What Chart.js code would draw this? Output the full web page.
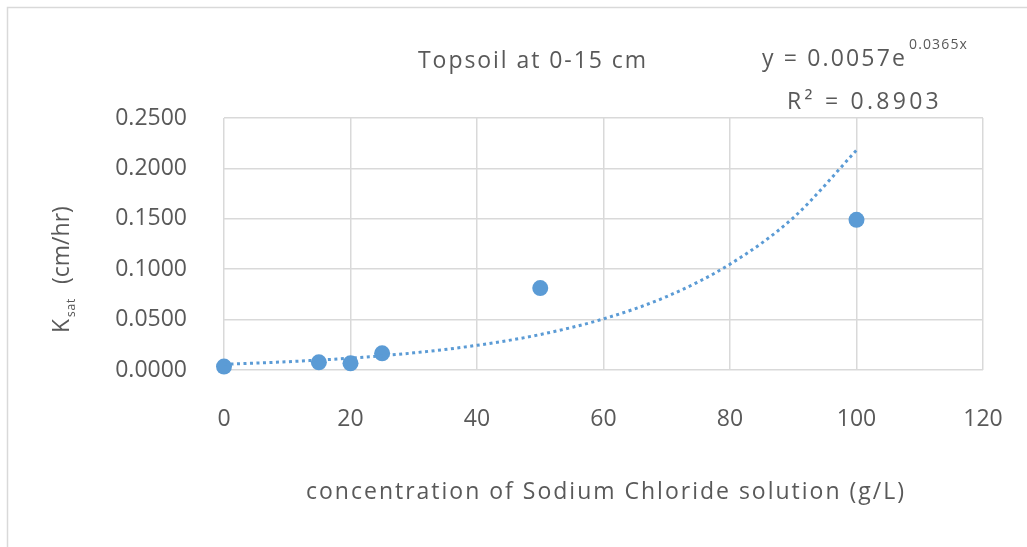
<!DOCTYPE html>
<html>
<head>
<meta charset="utf-8">
<script src="https://cdn.jsdelivr.net/npm/chart.js@4.4.1/dist/chart.umd.min.js"></script>
<style>
  html, body { margin: 0; padding: 0; background: #fff; }
  #wrap { width: 1027px; height: 547px; }
</style>
</head>
<body>
<div id="wrap"><canvas id="myChart" width="1027" height="547"></canvas></div>
<script>
// measured points (NaCl concentration g/L vs Ksat cm/hr)
const concentration = [0, 15, 20, 25, 50, 100];
const ksat = [0.0034, 0.0076, 0.0066, 0.0165, 0.0813, 0.1490];

// exponential trendline
const trendX = [0, 10, 20, 30, 40, 50, 60, 70, 80, 90, 100];
const trendY = [0.0057, 0.0082, 0.0118, 0.0170, 0.0245, 0.0352, 0.0507, 0.0729, 0.1050, 0.1510, 0.2180];

const xTicks = [0, 20, 40, 60, 80, 100, 120];
const yTicks = [0, 0.05, 0.10, 0.15, 0.20, 0.25];

const chartTitle = 'Topsoil at 0-15 cm';
const xTitle = 'concentration of Sodium Chloride solution (g/L)';
const equation = {base: 'y = 0.0057e', exp: '0.0365x', r2: 'R\u00B2 = 0.8903'};

const blue = '#5B9BD5';
const textColor = '#595959';
const gridColor = '#d9d9d9';
const fontFamily = '"Open Sans", "Noto Sans", sans-serif';

// draw text at (x, y) stretched with letter spacing to a given width
function fitText(ctx, text, x, y, size, width) {
    ctx.font = size + 'px ' + fontFamily;
    ctx.letterSpacing = '0px';
    const w = ctx.measureText(text).width;
    const sp = Math.max(0, (width - w) / text.length);
    ctx.letterSpacing = sp + 'px';
    ctx.fillText(text, x, y);
    return w + sp * text.length;
}

// draws frame, title, equation and axis titles
const decorPlugin = {
    id: 'decor',
    beforeDraw(chart) {
        const ctx = chart.ctx;
        ctx.save();
        ctx.fillStyle = '#fff';
        ctx.fillRect(0, 0, chart.width, chart.height);
        ctx.strokeStyle = gridColor;
        ctx.lineWidth = 1.5;
        ctx.beginPath();
        ctx.moveTo(7.5, chart.height);
        ctx.lineTo(7.5, 7.5);
        ctx.lineTo(chart.width, 7.5);
        ctx.stroke();
        ctx.restore();
    },
    afterDraw(chart) {
        const ctx = chart.ctx;
        ctx.save();
        ctx.fillStyle = textColor;
        ctx.textBaseline = 'alphabetic';
        ctx.textAlign = 'left';

        fitText(ctx, chartTitle, 418, 68, 23, 230);

        const w = fitText(ctx, equation.base, 762, 66, 23, 145);
        fitText(ctx, equation.exp, 762 + w + 2, 49, 14, 59);
        fitText(ctx, equation.r2, 787, 109, 23, 155);

        fitText(ctx, xTitle, 306, 499, 23, 600);

        // y axis title with subscript, rotated
        ctx.translate(69, 188);
        ctx.rotate(-Math.PI / 2);
        const parts = [['(cm/hr)', 23, 0, 74], ['  ', 23, 0, 14], ['sat', 12, 6, 19], ['K', 23, 0, 16]];
        // drawn right to left in screen terms: start at bottom (333) going up
        ctx.setTransform(1, 0, 0, 1, 0, 0);
        ctx.translate(69, 333);
        ctx.rotate(-Math.PI / 2);
        let x = 0;
        for (const p of parts.slice().reverse()) {
            x += fitText(ctx, p[0], x, p[2], p[1], p[3]);
        }
        ctx.restore();
    }
};

const ctx = document.getElementById('myChart');
const myChart = new Chart(ctx, {
    type: 'scatter',
    data: {
        datasets: [
            {
                label: 'Trend',
                data: trendX.map((x, i) => ({x: x, y: trendY[i]})),
                showLine: true,
                borderColor: blue,
                borderWidth: 3,
                borderDash: [3, 3.5],
                pointRadius: 0,
                cubicInterpolationMode: 'monotone',
                clip: false,
                order: 0
            },
            {
                label: 'Ksat',
                data: concentration.map((x, i) => ({x: x, y: ksat[i]})),
                backgroundColor: blue,
                borderWidth: 0,
                pointRadius: 8,
                clip: false,
                order: 1
            }
        ]
    },
    options: {
        responsive: false,
        animation: false,
        layout: {padding: {top: 118, right: 44, left: 0, bottom: 0}},
        plugins: {legend: {display: false}, tooltip: {enabled: false}},
        scales: {
            x: {
                type: 'linear',
                min: 0,
                max: 120,
                afterFit: scale => {
                    scale.height = 177;
                    scale.paddingLeft = 0;
                    scale.paddingRight = 0;
                },
                afterBuildTicks: scale => { scale.ticks = xTicks.map(v => ({value: v})); },
                grid: {color: gridColor, lineWidth: 1.5, drawTicks: false},
                border: {display: false},
                ticks: {color: textColor, padding: 36, font: {family: fontFamily, size: 23}}
            },
            y: {
                min: 0,
                max: 0.25,
                afterFit: scale => {
                    scale.width = 224;
                    scale.paddingTop = 0;
                    scale.paddingBottom = 0;
                },
                afterBuildTicks: scale => { scale.ticks = yTicks.map(v => ({value: v})); },
                grid: {color: gridColor, lineWidth: 1.5, drawTicks: false},
                border: {display: false},
                ticks: {
                    color: textColor, padding: 37, font: {family: fontFamily, size: 23},
                    callback: v => v.toFixed(4)
                }
            }
        }
    },
    plugins: [decorPlugin]
});
</script>
</body>
</html>
